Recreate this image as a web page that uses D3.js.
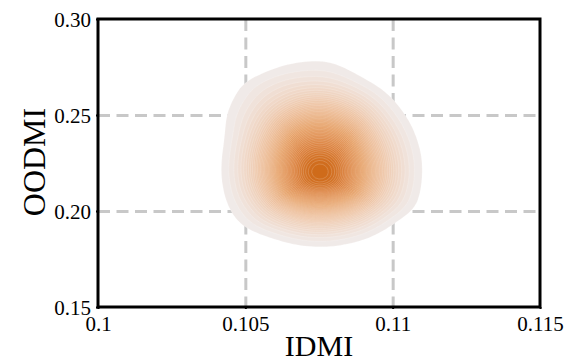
<!DOCTYPE html>
<html>
<head>
<meta charset="utf-8">
<script src="https://cdn.jsdelivr.net/npm/d3@7"></script>
<style>
  body { margin: 0; background: #fff; }
  svg { display: block; }
  text { font-family: "Liberation Serif", "Times New Roman", serif; fill: #000; }
</style>
</head>
<body>
<svg id="chart" width="567" height="363"></svg>
<script>
// axis ticks
const xTicks = [0.1, 0.105, 0.11, 0.115];
const xTickLabels = ["0.1", "0.105", "0.11", "0.115"];
const yTicks = [0.15, 0.20, 0.25, 0.30];
const yTickLabels = ["0.15", "0.20", "0.25", "0.30"];
const xGridLines = [0.105, 0.11];
const yGridLines = [0.20, 0.25];

// estimated KDE surface (relative density, peak ~1000)
const xGrid = [0.103, 0.104, 0.105, 0.106, 0.107, 0.108, 0.109, 0.110, 0.111, 0.112];
const yGrid = [0.29, 0.28, 0.27, 0.26, 0.25, 0.24, 0.23, 0.22, 0.21, 0.20, 0.19, 0.18, 0.17];
const density = [
  [0, 0, 0, 1, 4, 4, 1, 0, 0, 0],
  [0, 0, 2, 13, 20, 20, 6, 1, 0, 0],
  [0, 4, 24, 48, 60, 58, 22, 6, 1, 0],
  [0, 8, 45, 100, 190, 185, 95, 22, 3, 0],
  [0, 16, 65, 230, 420, 420, 235, 55, 8, 1],
  [1, 12, 100, 375, 665, 670, 400, 110, 16, 1],
  [1, 15, 135, 510, 855, 865, 540, 160, 24, 2],
  [1, 17, 145, 570, 960, 975, 610, 185, 27, 2],
  [1, 14, 115, 470, 840, 850, 515, 150, 22, 2],
  [0, 11, 55, 240, 445, 450, 255, 70, 18, 1],
  [0, 4, 28, 62, 128, 128, 68, 17, 2, 0],
  [0, 0, 2, 9, 19, 19, 10, 3, 0, 0],
  [0, 0, 0, 1, 2, 2, 1, 0, 0, 0]
];
const lowestLevel = 23;
const nLevels = 50;

const pL = 98, pR = 540, pT = 19, pB = 307;

const svg = d3.select("#chart");
const x = d3.scaleLinear().domain([0.1, 0.115]).range([pL, pR]);
const y = d3.scaleLinear().domain([0.15, 0.30]).range([pB, pT]);

// grid
svg.append("g")
  .attr("transform", `translate(0,${pT})`)
  .call(d3.axisTop(x).tickValues(xGridLines).tickSize(-(pB - pT)).tickFormat(""))
  .call(g => g.select(".domain").remove())
  .selectAll("line")
  .attr("stroke", "#c8c8c8").attr("stroke-width", 3).attr("stroke-dasharray", "12,6.5");
svg.append("g")
  .attr("transform", `translate(${pL},0)`)
  .call(d3.axisLeft(y).tickValues(yGridLines).tickSize(-(pR - pL)).tickFormat(""))
  .call(g => g.select(".domain").remove())
  .selectAll("line")
  .attr("stroke", "#c8c8c8").attr("stroke-width", 3).attr("stroke-dasharray", "12,6.5");

// smooth the estimated grid (B-spline in log space)
const f = 8;
const nx = xGrid.length, ny = yGrid.length;
const W = (nx - 1) * f + 1, H = (ny - 1) * f + 1;
const logs = density.map(r => r.map(v => Math.log(Math.max(v, 0.3))));
const rowsFine = logs.map(r => {
  const b = d3.interpolateBasis(r);
  return d3.range(W).map(i => b(i / (W - 1)));
});
const values = new Array(W * H);
for (let i = 0; i < W; i++) {
  const b = d3.interpolateBasis(rowsFine.map(r => r[i]));
  for (let j = 0; j < H; j++) values[j * W + i] = Math.exp(b(j / (H - 1)));
}
const vmax = d3.max(values);
const thresholds = d3.range(nLevels).map(i => lowestLevel + (vmax - lowestLevel) * i / nLevels);
const color = d3.scaleLinear()
  .domain([0, 0.07, 0.25, 0.55, 0.82, 1])
  .range(["#f0eae8", "#f0dccf", "#eec4a4", "#e6a066", "#db803c", "#cd6816"]);

const sx = d3.scaleLinear().domain([0.5, W - 0.5]).range([x(xGrid[0]), x(xGrid[nx - 1])]);
const sy = d3.scaleLinear().domain([0.5, H - 0.5]).range([y(yGrid[0]), y(yGrid[ny - 1])]);
const path = d3.geoPath(d3.geoTransform({
  point(px, py) { this.stream.point(sx(px), sy(py)); }
}));

svg.append("clipPath").attr("id", "clip")
  .append("rect").attr("x", pL).attr("y", pT).attr("width", pR - pL).attr("height", pB - pT);

svg.append("g").attr("clip-path", "url(#clip)")
  .selectAll("path")
  .data(d3.contours().size([W, H]).thresholds(thresholds)(values))
  .join("path")
  .attr("d", path)
  .attr("fill", d => color((d.value - lowestLevel) / (vmax - lowestLevel)))
  .attr("stroke", "#fff")
  .attr("stroke-opacity", 0.3)
  .attr("stroke-width", 0.6);

// tick labels
const xAxis = svg.append("g")
  .attr("transform", `translate(0,${pB})`)
  .call(d3.axisBottom(x).tickValues(xTicks).tickFormat((d, i) => xTickLabels[i]).tickSize(2).tickPadding(7));
const yAxis = svg.append("g")
  .attr("transform", `translate(${pL},0)`)
  .call(d3.axisLeft(y).tickValues(yTicks).tickFormat((d, i) => yTickLabels[i]).tickSize(2).tickPadding(5));
[xAxis, yAxis].forEach(g => {
  g.select(".domain").remove();
  g.selectAll("line").attr("stroke", "#000").attr("stroke-width", 2);
  g.selectAll("text").style("font-family", '"Liberation Serif", serif').style("font-size", "21px").attr("fill", "#000");
});
yAxis.selectAll("text").attr("dy", "0.38em");

// frame
svg.append("rect")
  .attr("x", pL).attr("y", pT).attr("width", pR - pL).attr("height", pB - pT)
  .attr("fill", "none").attr("stroke", "#000").attr("stroke-width", 3);

// axis titles
svg.append("text")
  .attr("x", 319).attr("y", 356)
  .attr("text-anchor", "middle")
  .style("font-size", "30px")
  .text("IDMI");
svg.append("text")
  .attr("transform", "translate(45,162) rotate(-90)")
  .attr("text-anchor", "middle")
  .style("font-size", "32px")
  .text("OODMI");
</script>
</body>
</html>
